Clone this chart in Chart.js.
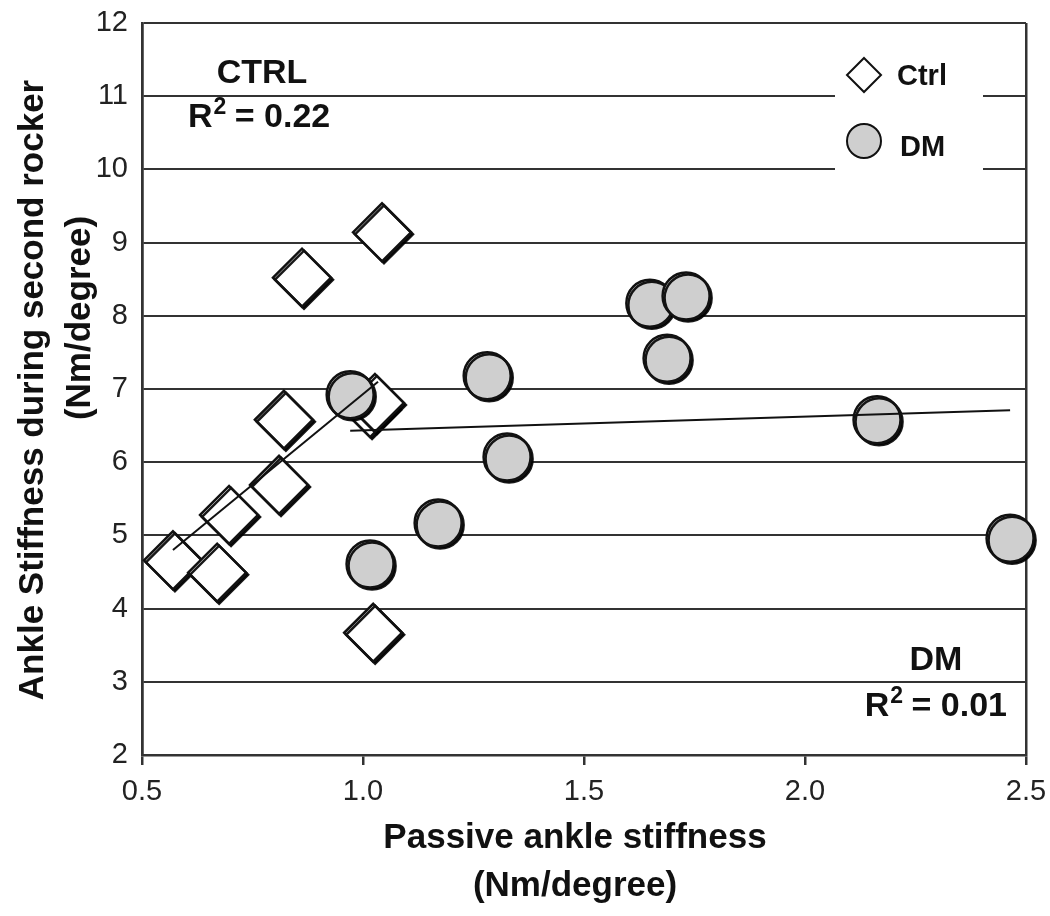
<!DOCTYPE html>
<html>
<head>
<meta charset="utf-8">
<script src="https://cdn.jsdelivr.net/npm/chart.js@4"></script>
<style>
  html, body { margin: 0; padding: 0; background: #fff; }
</style>
</head>
<body>
<canvas id="stiffChart" width="1050" height="916"></canvas>
<script>
// Ctrl group (diamonds)
const ctrlX = [1.043, 0.862, 0.821, 0.810, 0.697, 0.570, 0.670, 1.023, 1.016, 1.027];
const ctrlY = [9.14, 8.52, 6.58, 5.69, 5.28, 4.66, 4.49, 3.67, 6.74, 6.81];
// DM group (circles)
const dmX = [0.971, 1.281, 1.326, 1.170, 1.016, 1.649, 1.731, 1.688, 2.163, 2.464];
const dmY = [6.92, 7.18, 6.07, 5.17, 4.61, 8.17, 8.27, 7.42, 6.58, 4.96];
// regression line end points as drawn
const ctrlFitX = [0.570, 1.034];
const ctrlFitY = [4.80, 7.10];
const dmFitX = [0.971, 2.464];
const dmFitY = [6.43, 6.71];
// axes
const xTicks = [0.5, 1.0, 1.5, 2.0, 2.5];
const yMin = 2, yMax = 12;

const FONT = '"Liberation Sans", Arial, sans-serif';

function toPoints(xs, ys) {
    return xs.map((x, i) => ({ x: x, y: ys[i] }));
}

// R² label with a proper raised 2
function drawR2(ctx, text, x, y, align) {
    const big = 'bold 34px ' + FONT, small = 'bold 23px ' + FONT;
    ctx.font = big;
    const wR = ctx.measureText('R').width;
    const wRest = ctx.measureText(' ' + text).width;
    ctx.font = small;
    const w2 = ctx.measureText('2').width;
    const total = wR + w2 + wRest;
    let left = align === 'right' ? x - total : x;
    ctx.textAlign = 'left';
    ctx.font = big;
    ctx.fillText('R', left, y);
    ctx.font = small;
    ctx.fillText('2', left + wR + 1, y - 10);
    ctx.font = big;
    ctx.fillText(' ' + text, left + wR + w2, y);
}

// gives the markers the slight drop shadow seen on the original
const shadowPlugin = {
    id: 'markerShadow',
    beforeDatasetDraw(chart, args) {
        if (args.meta.type !== 'scatter') return;
        const ctx = chart.ctx;
        ctx.save();
        ctx.shadowColor = 'rgba(0,0,0,0.9)';
        ctx.shadowOffsetX = 2;
        ctx.shadowOffsetY = 2;
        ctx.shadowBlur = 0;
    },
    afterDatasetDraw(chart, args) {
        if (args.meta.type !== 'scatter') return;
        chart.ctx.restore();
    }
};

// legend box, group labels and axis titles
const labelPlugin = {
    id: 'labels',
    afterDraw(chart) {
        const ctx = chart.ctx;
        ctx.save();

        // legend
        ctx.fillStyle = '#fff';
        ctx.fillRect(835, 58, 148, 122);
        ctx.lineWidth = 2;
        ctx.strokeStyle = '#111';
        ctx.beginPath();
        ctx.moveTo(864, 58); ctx.lineTo(881, 75); ctx.lineTo(864, 92); ctx.lineTo(847, 75);
        ctx.closePath();
        ctx.fillStyle = '#fff';
        ctx.fill(); ctx.stroke();
        ctx.beginPath();
        ctx.arc(864, 141, 17, 0, Math.PI * 2);
        ctx.fillStyle = '#cfcfcf';
        ctx.fill(); ctx.stroke();

        ctx.fillStyle = '#111';
        ctx.textBaseline = 'middle';
        ctx.textAlign = 'left';
        ctx.font = 'bold 29px ' + FONT;
        ctx.fillText('Ctrl', 897, 77);
        ctx.fillText('DM', 900, 148);

        // group annotations
        ctx.font = 'bold 34px ' + FONT;
        ctx.textAlign = 'center';
        ctx.fillText('CTRL', 262, 74);
        drawR2(ctx, '= 0.22', 188, 118, 'left');
        ctx.font = 'bold 34px ' + FONT;
        ctx.textAlign = 'center';
        ctx.fillText('DM', 936, 661);
        drawR2(ctx, '= 0.01', 1007, 707, 'right');

        // x title
        ctx.textAlign = 'center';
        ctx.font = 'bold 35px ' + FONT;
        ctx.fillText('Passive ankle stiffness', 575, 838);
        ctx.fillText('(Nm/degree)', 575, 886);

        // y title
        ctx.save();
        ctx.translate(33, 390);
        ctx.rotate(-Math.PI / 2);
        ctx.fillText('Ankle Stiffness during second rocker', 0, 0);
        ctx.restore();
        ctx.save();
        ctx.translate(80, 318);
        ctx.rotate(-Math.PI / 2);
        ctx.fillText('(Nm/degree)', 0, 0);
        ctx.restore();

        ctx.restore();
    }
};

const ctx = document.getElementById('stiffChart');
new Chart(ctx, {
    type: 'scatter',
    data: {
        datasets: [
            {
                type: 'line',
                label: 'Ctrl fit',
                data: toPoints(ctrlFitX, ctrlFitY),
                borderColor: '#111',
                borderWidth: 2,
                pointRadius: 0,
                fill: false,
                order: 0
            },
            {
                type: 'line',
                label: 'DM fit',
                data: toPoints(dmFitX, dmFitY),
                borderColor: '#111',
                borderWidth: 2,
                pointRadius: 0,
                fill: false,
                order: 0
            },
            {
                label: 'DM',
                data: toPoints(dmX, dmY),
                pointStyle: 'circle',
                pointRadius: 23.5,
                backgroundColor: '#cfcfcf',
                borderColor: '#111',
                borderWidth: 2.5,
                clip: false,
                order: 1
            },
            {
                label: 'Ctrl',
                data: toPoints(ctrlX, ctrlY),
                pointStyle: 'rectRot',
                pointRadius: 29,
                backgroundColor: '#fff',
                borderColor: '#111',
                borderWidth: 2.5,
                clip: false,
                order: 2
            }
        ]
    },
    options: {
        responsive: false,
        animation: false,
        layout: { autoPadding: false, padding: { left: 0, right: 24, top: 23, bottom: 0 } },
        plugins: {
            legend: { display: false },
            tooltip: { enabled: false }
        },
        scales: {
            x: {
                type: 'linear',
                min: xTicks[0],
                max: xTicks[xTicks.length - 1],
                afterFit: (scale) => {
                    scale.height = 161;
                    scale.paddingLeft = 0;
                    scale.paddingRight = 0;
                },
                afterBuildTicks: (scale) => { scale.ticks = xTicks.map(v => ({ value: v })); },
                ticks: {
                    callback: (v) => Number(v).toFixed(1),
                    font: { family: FONT, size: 29 },
                    color: '#222',
                    padding: 10
                },
                grid: {
                    drawOnChartArea: true,
                    color: (c) => (c.tick && (c.tick.value === 0.5 || c.tick.value === 2.5)) ? '#333' : 'rgba(0,0,0,0)',
                    tickColor: '#333',
                    tickLength: 10,
                    lineWidth: 2.5
                },
                border: { display: true, color: '#333', width: 2.5 }
            },
            y: {
                min: yMin,
                max: yMax,
                afterFit: (scale) => {
                    scale.width = 142;
                    scale.paddingTop = 0;
                    scale.paddingBottom = 0;
                },
                ticks: {
                    stepSize: 1,
                    font: { family: FONT, size: 29 },
                    color: '#222',
                    padding: 14
                },
                grid: {
                    color: '#333',
                    lineWidth: 2,
                    drawTicks: false
                },
                border: { display: true, color: '#333', width: 2.5 }
            }
        }
    },
    plugins: [shadowPlugin, labelPlugin]
});
</script>
</body>
</html>
